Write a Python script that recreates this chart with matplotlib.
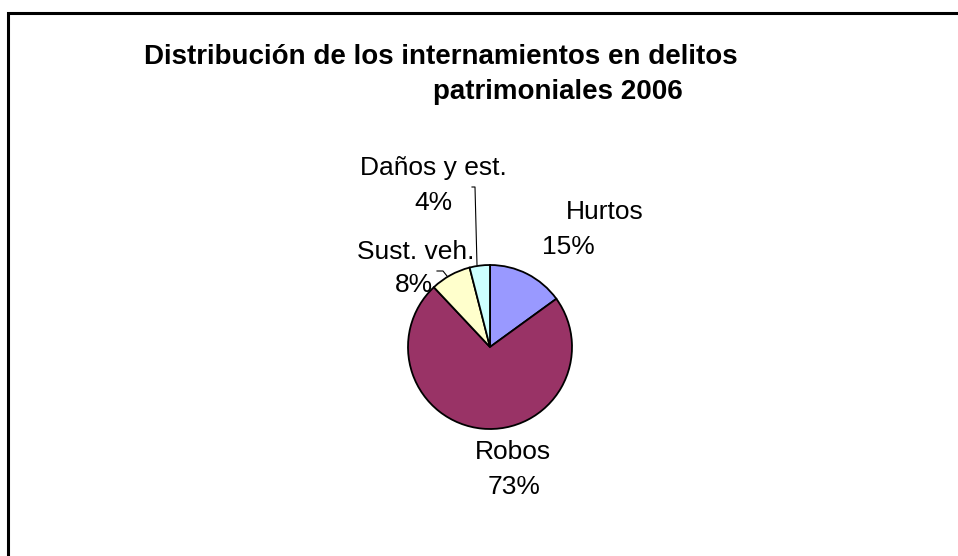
import matplotlib
matplotlib.use("Agg")
import matplotlib.pyplot as plt
from matplotlib.patches import Rectangle

# datos
categorias = ["Hurtos", "Robos", "Sust. veh.", "Daños y est."]
porcentajes = [15, 73, 8, 4]
colores = ["#9999FF", "#993366", "#FFFFCC", "#CCFFFF"]
titulo = "Distribución de los internamientos en delitos"
titulo2 = "patrimoniales 2006"

W, H = 958, 556
plt.rcParams["font.family"] = ["Liberation Sans", "DejaVu Sans"]

fig = plt.figure(figsize=(W / 100, H / 100), dpi=100)
ax = fig.add_axes([0, 0, 1, 1])

def py(y):
    # coordenada en pixeles desde arriba
    return H - y

ax.pie(porcentajes, colors=colores, startangle=90, counterclock=False,
       center=(490, py(347)), radius=82,
       wedgeprops=dict(edgecolor="black", linewidth=1.3))

ax.set_xlim(0, W)
ax.set_ylim(0, H)
ax.set_aspect("equal")
ax.axis("off")

# marco del grafico
ax.add_patch(Rectangle((8.5, -10), 960, py(12.5) + 10, fill=False,
                       edgecolor="black", linewidth=2.2))

ax.text(441, py(64), titulo, ha="center", va="baseline",
        fontsize=20, fontweight="bold")
ax.text(558, py(99), titulo2, ha="center", va="baseline",
        fontsize=20, fontweight="bold")

fs = 19
# etiquetas
etiq_pos = {
    "Hurtos": ((605, 212), (568, 247)),
    "Robos": ((513, 452), (514, 487)),
    "Sust. veh.": ((416, 252), (414, 285)),
    "Daños y est.": ((433, 168), (433, 203)),
}
for cat, p in zip(categorias, porcentajes):
    (x1, y1), (x2, y2) = etiq_pos[cat]
    ax.text(x1, py(y1), cat, ha="center", va="center", fontsize=fs)
    ax.text(x2, py(y2), f"{p}%", ha="center", va="center", fontsize=fs)

# lineas guia
ax.plot([472, 475, 477], [py(187), py(187), py(265)], color="black", lw=0.8)
ax.plot([437, 443, 447], [py(271), py(271), py(276)], color="black", lw=0.8)

fig.savefig("out.png", dpi=100)
